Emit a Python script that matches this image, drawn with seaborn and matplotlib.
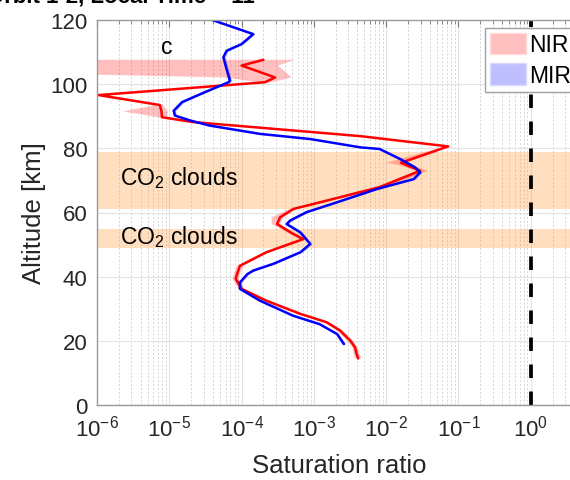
import numpy as np
import pandas as pd
import matplotlib
matplotlib.use("Agg")
import matplotlib.pyplot as plt
from matplotlib.patches import Patch
from matplotlib.ticker import LogLocator, LogFormatterSciNotation, FixedLocator, NullFormatter
import seaborn as sns

# ---------------- data ----------------
nir_alt = [107.6, 105.8, 102.1, 100.6, 96.6, 93.5, 91.5, 89.7, 88.2, 83.8, 80.6, 75.5, 74.8, 73.0,
           67.9, 63.7, 61.1, 58.5, 56.4, 53.5, 51.7, 47.6, 43.4, 40.3, 39.3, 36.2, 32.5, 28.4,
           25.8, 23.2, 20.0, 18.0, 15.9, 14.5]
nir_val = [2.0e-4, 1.0e-4, 2.9e-4, 2.1e-4, 1.05e-6, 7.4e-6, 7.8e-6, 7.9e-6, 2.1e-5, 4.4e-3, 7.2e-2,
           1.6e-2, 1.9e-2, 2.95e-2, 8.1e-3, 1.5e-3, 5.2e-4, 3.4e-4, 3.1e-4, 5.0e-4, 7.1e-4, 2.2e-4,
           9.5e-5, 8.5e-5, 8.3e-5, 1.0e-4, 2.2e-4, 6.5e-4, 1.5e-3, 2.3e-3, 3.2e-3, 3.7e-3, 3.9e-3, 4.1e-3]
nir_lo = [1e-12, 1e-12, 6.0e-5, 1.7e-4, 9.5e-7, 6.5e-6, 2.3e-6, 7.0e-6, 1.9e-5, 4.0e-3, 6.5e-2,
          1.0e-2, 1.5e-2, 2.6e-2, 7.2e-3, 1.35e-3, 4.6e-4, 2.6e-4, 2.6e-4, 4.5e-4, 6.4e-4, 2.0e-4,
          8.6e-5, 7.7e-5, 7.5e-5, 9.1e-5, 2.0e-4, 5.9e-4, 1.35e-3, 2.1e-3, 2.9e-3, 3.4e-3, 3.55e-3, 3.7e-3]
nir_hi = [5.5e-4, 3.2e-4, 4.9e-4, 2.6e-4, 1.15e-6, 8.2e-6, 9.5e-6, 9.5e-6, 2.3e-5, 4.8e-3, 8.0e-2,
          1.8e-2, 2.2e-2, 3.8e-2, 1.0e-2, 1.7e-3, 5.8e-4, 3.8e-4, 3.4e-4, 5.5e-4, 7.8e-4, 2.4e-4,
          1.05e-4, 9.3e-5, 9.1e-5, 1.1e-4, 2.4e-4, 7.1e-4, 1.65e-3, 2.5e-3, 3.5e-3, 4.0e-3, 4.3e-3, 4.5e-3]

mir_alt = [120.3, 115.6, 112.5, 110.4, 108.4, 104.7, 101.1, 100.6, 97.5, 94.4, 91.7, 90.2, 88.6,
           87.1, 84.5, 82.9, 80.3, 79.8, 76.7, 74.1, 72.5, 70.4, 67.3, 63.2, 60.1, 57.5, 56.4,
           53.8, 50.2, 47.6, 44.0, 41.9, 40.8, 38.2, 36.2, 32.5, 27.8, 25.2, 22.1, 19.0]
mir_val = [3.6e-5, 1.45e-4, 1.0e-4, 6.2e-5, 5.6e-5, 6.2e-5, 6.9e-5, 6.6e-5, 3.1e-5, 1.5e-5, 1.15e-5,
           1.2e-5, 2.0e-5, 3.6e-5, 1.8e-4, 8.9e-4, 4.4e-3, 8.1e-3, 1.55e-2, 2.5e-2, 2.95e-2, 2.4e-2,
           7.4e-3, 2.1e-3, 7.9e-4, 4.7e-4, 4.2e-4, 6.5e-4, 8.9e-4, 6.5e-4, 2.75e-4, 1.45e-4, 1.2e-4,
           9.5e-5, 9.5e-5, 1.8e-4, 5.2e-4, 1.2e-3, 2.1e-3, 2.6e-3]
mir_lo = [3.4e-5, 1.37e-4, 9.5e-5, 5.9e-5, 5.3e-5, 5.9e-5, 6.5e-5, 6.2e-5, 2.9e-5, 1.42e-5, 1.09e-5,
          1.13e-5, 1.9e-5, 3.4e-5, 1.7e-4, 8.4e-4, 4.1e-3, 7.6e-3, 1.46e-2, 2.35e-2, 2.8e-2, 2.25e-2,
          7.0e-3, 2.0e-3, 7.4e-4, 4.4e-4, 4.0e-4, 6.1e-4, 8.4e-4, 6.1e-4, 2.6e-4, 1.37e-4, 1.13e-4,
          9.0e-5, 9.0e-5, 1.7e-4, 4.9e-4, 1.13e-3, 2.0e-3, 2.45e-3]
mir_hi = [3.8e-5, 1.53e-4, 1.06e-4, 6.6e-5, 5.9e-5, 6.6e-5, 7.3e-5, 7.0e-5, 3.3e-5, 1.6e-5, 1.22e-5,
          1.27e-5, 2.1e-5, 3.8e-5, 1.9e-4, 9.4e-4, 4.7e-3, 8.6e-3, 1.65e-2, 2.65e-2, 3.1e-2, 2.55e-2,
          7.8e-3, 2.2e-3, 8.4e-4, 5.0e-4, 4.4e-4, 6.9e-4, 9.4e-4, 6.9e-4, 2.9e-4, 1.53e-4, 1.27e-4,
          1.0e-4, 1.0e-4, 1.9e-4, 5.5e-4, 1.27e-3, 2.2e-3, 2.75e-3]

cloud_bands = [(61.0, 79.0), (49.0, 55.0)]
cloud_label_alt = [71.0, 52.8]
x_ticks = [1e-6, 1e-5, 1e-4, 1e-3, 1e-2, 1e-1, 1e0]
y_ticks = [0, 20, 40, 60, 80, 100, 120]
legend_labels = ["NIR", "MIR"]

# ---------------- style ----------------
sns.set_style("white")
plt.rcParams["font.family"] = ["Liberation Sans", "DejaVu Sans"]
plt.rcParams["mathtext.fontset"] = "custom"
plt.rcParams["mathtext.rm"] = "Liberation Sans"
plt.rcParams["mathtext.it"] = "Liberation Sans:italic"
plt.rcParams["mathtext.bf"] = "Liberation Sans:bold"
txt = "#262626"

W, H = 570, 481
fig = plt.figure(figsize=(W / 100, H / 100), dpi=100)
xmin, xmax = 1e-6, 5.0
dec_px = 72.3
ax_left, ax_bottom, ax_top = 97, 406, 21
ax_w = dec_px * np.log10(xmax / xmin)  # axes run past the right edge of the picture
ax = fig.add_axes([ax_left / W, 1 - ax_bottom / H, ax_w / W, (ax_bottom - ax_top) / H])

nir = pd.DataFrame({"alt": nir_alt, "val": nir_val})
mir = pd.DataFrame({"alt": mir_alt, "val": mir_val})

# cloud bands
for (a0, a1) in cloud_bands:
    ax.axhspan(a0, a1, color="#FF8000", alpha=0.25, lw=0, zorder=1)

# uncertainty fills
ax.fill_betweenx(nir_alt, nir_lo, nir_hi, color="red", alpha=0.25, lw=0, zorder=1.5)
ax.fill_betweenx(mir_alt, mir_lo, mir_hi, color="blue", alpha=0.25, lw=0, zorder=1.5)

sns.lineplot(data=nir, x="val", y="alt", sort=False, estimator=None, color="red", lw=1.8, ax=ax, zorder=2)
sns.lineplot(data=mir, x="val", y="alt", sort=False, estimator=None, color="blue", lw=1.8, ax=ax, zorder=2.2)

ax.axvline(1.0, color="black", lw=2.7, dashes=(3.6, 3.6), zorder=2.5)

ax.set_xscale("log")
ax.set_xlim(xmin, xmax)
ax.set_ylim(0, 120)
ax.xaxis.set_major_locator(FixedLocator(x_ticks))
ax.xaxis.set_major_formatter(LogFormatterSciNotation())
ax.xaxis.set_minor_locator(LogLocator(base=10, subs=np.arange(2, 10), numticks=20))
ax.xaxis.set_minor_formatter(NullFormatter())
ax.set_yticks(y_ticks)

ax.set_axisbelow(True)
ax.grid(which="major", color="#e3e3e3", lw=0.8, ls="-")
ax.grid(which="minor", axis="x", color="#d6d6d6", lw=0.7, ls=(0, (2, 2)))

ax.tick_params(which="both", direction="in", top=True, right=True, colors="#7a7a7a",
               labelcolor=txt, labelsize=16)
ax.tick_params(which="major", length=5, width=0.8, pad=7)
ax.tick_params(which="minor", length=3, width=0.6)
for s in ax.spines.values():
    s.set_color("#9a9a9a")
    s.set_linewidth(1.0)

ax.set_xlabel("Saturation ratio", fontsize=18.5, color=txt, labelpad=9)
ax.set_ylabel("Altitude [km]", fontsize=18.5, color=txt, labelpad=3)

# annotations
ax.text(9.3e-6, 111.6, "c", fontsize=16.5, color="black", ha="center", va="center", zorder=3)
for a in cloud_label_alt:
    ax.text(2.1e-6, a, "CO$_2$ clouds", fontsize=16.5, color="black", ha="left", va="center", zorder=3)

# legend
handles = [Patch(facecolor=(1, 0.75, 0.75), edgecolor=(1, 0.85, 0.85)),
           Patch(facecolor=(0.75, 0.75, 1), edgecolor=(0.85, 0.85, 1))]
leg = ax.legend(handles, legend_labels, loc="upper left",
                bbox_to_anchor=((485 - ax_left) / ax_w, (ax_bottom - 29) / (ax_bottom - ax_top)),
                borderaxespad=0, fontsize=16.5, frameon=True, fancybox=False, framealpha=1,
                edgecolor="#a0a0a0", handlelength=1.55, handleheight=1.05, handletextpad=0.15,
                labelspacing=0.3, borderpad=0.22)
leg.get_frame().set_linewidth(1.0)
leg.set_zorder(5)
for t in leg.get_texts():
    t.set_color("black")

# clipped title at top (only its lower edge shows, as in the original)
fig.text(255 / W, (H - 3) / H, "Orbit 1-2, Local Time = 11", fontsize=16, fontweight="bold",
         color="black", ha="right", va="baseline")

fig.savefig("out.png", dpi=100)
